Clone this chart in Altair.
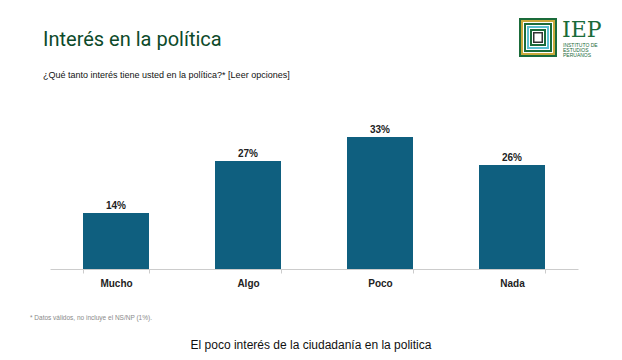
import altair as alt
import pandas as pd

categories = ["Mucho", "Algo", "Poco", "Nada"]
values = [14, 27, 33, 26]
labels = ["14%", "27%", "33%", "26%"]

title_text = "Interés en la política"
subtitle_text = "¿Qué tanto interés tiene usted en la política?* [Leer opciones]"
footnote_text = "* Datos válidos, no incluye el NS/NP (1%)."
caption_text = "El poco interés de la ciudadanía en la politica"

df = pd.DataFrame({"cat": categories, "val": values, "lab": labels})

W, H = 528, 168
BAR = "#0f5f7f"
GREEN = "#0d4a2a"

base = alt.Chart(df)

x_enc = alt.X("cat:N", sort=categories, title=None,
              scale=alt.Scale(paddingInner=0.5, paddingOuter=0.25),
              axis=alt.Axis(labelAngle=0, labelFont="Liberation Sans", labelFontWeight="bold",
                            labelFontSize=10, labelColor="#222", labelPadding=5,
                            domainColor="#cccccc", tickColor="#cccccc", tickSize=4,
                            tickBand="extent", grid=False))
y_enc = alt.Y("val:Q", scale=alt.Scale(domain=[0, 42], nice=False), axis=None)

bars = base.mark_bar(color=BAR).encode(x=x_enc, y=y_enc)
text = base.mark_text(dy=-7, font="Liberation Sans", fontWeight="bold", fontSize=10,
                      color="#222").encode(x=alt.X("cat:N", sort=categories), y="val:Q", text="lab:N")

def label(txt, x, y, size, color, font="Roboto", weight="normal", align="left"):
    return alt.Chart(pd.DataFrame({"t": [txt]})).mark_text(
        align=align, baseline="alphabetic", fontSize=size, color=color, font=font, fontWeight=weight
    ).encode(x=alt.value(x), y=alt.value(y), text="t:N")

title = label(title_text, -7, -55, 20, GREEN)
subtitle = label(subtitle_text, -7, -23, 9, "#111", font="Liberation Sans")
footnote = label(footnote_text, -20, 219, 6.5, "#8a8a8a", font="Liberation Sans")
caption = label(caption_text, 261, 248, 12, "#111", font="Liberation Sans", align="center")

# logo
def rect(x, x2, y, y2, color):
    return alt.Chart(pd.DataFrame({"a": [0]})).mark_rect(color=color).encode(
        x=alt.value(x), x2=alt.value(x2), y=alt.value(y), y2=alt.value(y2))

lx, ly = 519 - 50, 18 - 101
logo_layers = []
sizes = [(0, "#1a6b3a"), (2, "#c9a93c"), (4, "#ffffff"), (5, "#1a6b3a"), (7, "#ffffff"),
         (8, "#5bbfd0"), (10, "#ffffff"), (11, "#1a6b3a"), (13, "#ffffff"), (14, "#333333"), (15.5, "#ffffff")]
for inset, col in sizes:
    logo_layers.append(rect(lx + inset, lx + 38 - inset, ly + inset, ly + 39 - inset, col))
iep = label("IEP", 562 - 50, 37 - 101, 22, "#1a6b3a", font="DejaVu Serif")
small1 = label("INSTITUTO DE", 563 - 50, 47 - 101, 5, "#1a6b3a", font="Liberation Sans")
small2 = label("ESTUDIOS", 563 - 50, 52 - 101, 5, "#1a6b3a", font="Liberation Sans")
small3 = label("PERUANOS", 563 - 50, 57 - 101, 5, "#1a6b3a", font="Liberation Sans")

chart = alt.layer(bars, text, title, subtitle, footnote, caption, *logo_layers, iep, small1, small2, small3).properties(
    width=W, height=H,
    background="white",
    autosize=alt.AutoSizeParams(type="none"),
    padding={"left": 42, "top": 93, "right": 36, "bottom": 83},
).configure_view(stroke="transparent", strokeWidth=0)

chart.save("out.html", embed_options={"renderer": "svg", "actions": False})
